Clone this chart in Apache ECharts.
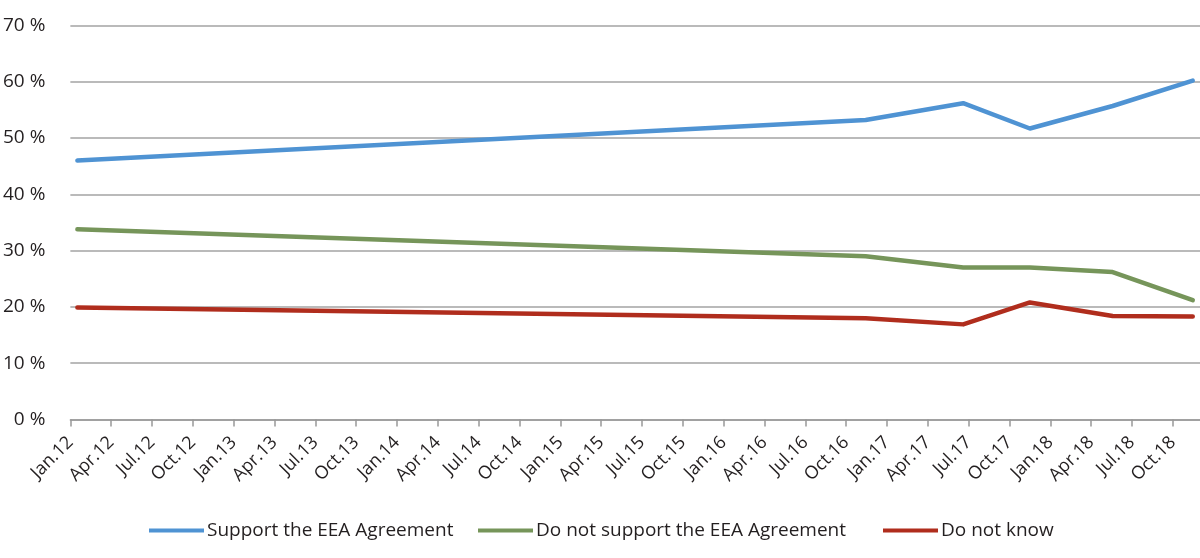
<!DOCTYPE html>
<html>
<head>
<meta charset="utf-8">
<script src="https://cdn.jsdelivr.net/npm/echarts@6/dist/echarts.min.js"></script>
<style>
html,body{margin:0;padding:0;background:#fff;}
#chart{width:1200px;height:558px;}
</style>
</head>
<body>
<div id="chart"></div>
<script>
// Survey dates
var surveyDates = ["2012-01-17", "2016-11-14", "2017-06-19", "2017-11-16", "2018-05-19", "2018-11-15"];
var supportValues = [46.0, 53.2, 56.2, 51.7, 55.7, 60.2];
var notSupportValues = [33.8, 29.0, 27.0, 27.0, 26.2, 21.2];
var dontKnowValues = [19.9, 18.0, 16.9, 20.8, 18.4, 18.3];
var seriesNames = ["Support the EEA Agreement", "Do not support the EEA Agreement", "Do not know"];
var monthNames = ["Jan", "Apr", "Jul", "Oct"];
var yTicks = [0, 10, 20, 30, 40, 50, 60, 70];

function monthOffset(s) {
  var p = s.split("-").map(Number);
  var dim = new Date(p[0], p[1], 0).getDate();
  return (p[0] - 2012) * 12 + (p[1] - 1) + (p[2] - 1) / dim;
}
var xs = surveyDates.map(monthOffset);
function pairs(vals) { return vals.map(function (v, i) { return [xs[i], v]; }); }

var quarterTicks = [];
for (var m = 0; m <= 81; m += 3) quarterTicks.push(m);
function quarterLabel(v) {
  var y = Math.floor(v / 12);
  var q = Math.round((v - y * 12) / 3);
  return monthNames[q] + "." + (12 + y);
}

var font = "Open Sans";
var textColor = "#231f20";
var colors = ["#4f93d3", "#76955a", "#b02d1d"];

var chart = echarts.init(document.getElementById("chart"), null, { renderer: "canvas" });
function mkLegend(i, left) {
  return {
    data: [seriesNames[i]], left: left, top: 521, icon: "rect",
    itemWidth: 55, itemHeight: 4, itemGap: 0,
    textStyle: { fontFamily: font, fontSize: 19, color: textColor, padding: [0, 0, 0, -2] },
    padding: 0
  };
}
chart.setOption({
  animation: false,
  color: colors,
  grid: { left: 68.5, right: 0, top: 25.5, bottom: 138.5, containLabel: false },
  legend: [mkLegend(0, 149), mkLegend(1, 478), mkLegend(2, 883)],
  xAxis: {
    type: "value", min: 0, max: 83,
    axisLine: { show: true, lineStyle: { color: "#999", width: 1.5 } },
    axisTick: { show: true, length: 7, lineStyle: { color: "#999", width: 1.5 }, customValues: quarterTicks },
    axisLabel: {
      customValues: quarterTicks, rotate: 45, margin: 20, padding: [16, 0, 0, 0],
      fontFamily: font, fontSize: 18, color: textColor,
      formatter: function (v) { return quarterLabel(v); }
    },
    splitLine: { show: false }
  },
  yAxis: {
    type: "value", min: 0, max: 70, interval: 10,
    axisLine: { show: false }, axisTick: { show: false },
    axisLabel: { margin: 25, fontFamily: font, fontSize: 19, color: textColor, formatter: "{value} %" },
    splitLine: { lineStyle: { color: "#a3a3a3", width: 1.5 } }
  },
  series: [
    { name: seriesNames[0], type: "line", data: pairs(supportValues), showSymbol: false,
      lineStyle: { width: 4.5, cap: "round", join: "round", color: colors[0] } },
    { name: seriesNames[1], type: "line", data: pairs(notSupportValues), showSymbol: false,
      lineStyle: { width: 4.5, cap: "round", join: "round", color: colors[1] } },
    { name: seriesNames[2], type: "line", data: pairs(dontKnowValues), showSymbol: false,
      lineStyle: { width: 4.5, cap: "round", join: "round", color: colors[2] } }
  ]
});
</script>
</body>
</html>
